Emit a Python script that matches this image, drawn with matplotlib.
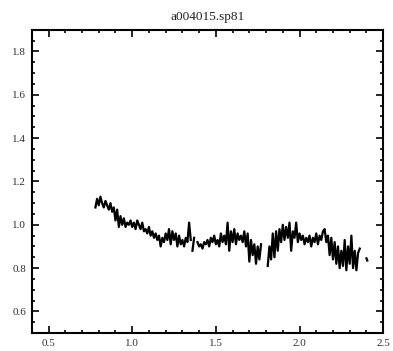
import numpy as np
import matplotlib
matplotlib.use("Agg")
import matplotlib.pyplot as plt
from matplotlib.ticker import MultipleLocator

# 스펙트럼 데이터
x1 = np.round(np.arange(0.78, 1.355, 0.01), 2)
y1 = [1.08, 1.12, 1.09, 1.13, 1.10, 1.08, 1.11, 1.09, 1.07, 1.10,
      1.06, 1.08, 1.02, 1.07, 0.99, 1.04, 1.00, 1.03, 0.99, 1.01,
      1.00, 1.02, 0.99, 1.01, 0.98, 1.02, 1.00, 0.98, 1.01, 0.97,
      0.98, 0.96, 0.99, 0.95, 0.97, 0.94, 0.96, 0.93, 0.95, 0.90,
      0.94, 0.92, 0.96, 0.93, 0.98, 0.91, 0.97, 0.93, 0.96, 0.90,
      0.95, 0.91, 0.93, 0.90, 0.94, 0.92, 1.01, 0.93]
x1b = [1.36, 1.37]
y1b = [0.88, 0.94]
x2 = np.round(np.arange(1.39, 1.775, 0.01), 2)
y2 = [0.92, 0.90, 0.91, 0.89, 0.92, 0.91, 0.93, 0.90, 0.94, 0.92,
      0.95, 0.91, 0.93, 0.90, 0.96, 0.92, 0.95, 0.91, 1.01, 0.88,
      0.97, 0.92, 0.98, 0.91, 0.96, 0.93, 0.95, 0.92, 0.97, 0.90,
      0.96, 0.83, 0.93, 0.86, 0.91, 0.82, 0.90, 0.84, 0.91]
x3 = np.round(np.arange(1.81, 2.365, 0.01), 2)
y3 = [0.81, 0.90, 0.84, 0.96, 0.85, 0.97, 0.88, 0.98, 0.92, 1.00,
      0.93, 0.99, 0.94, 1.01, 0.88, 0.97, 0.94, 1.01, 0.92, 0.96,
      0.93, 0.95, 0.91, 0.94, 0.92, 0.95, 0.90, 0.94, 0.92, 0.96,
      0.91, 0.95, 0.93, 0.97, 0.98, 0.92, 0.95, 0.86, 0.94, 0.84,
      0.92, 0.82, 0.90, 0.80, 0.88, 0.81, 0.93, 0.79, 0.90, 0.82,
      0.95, 0.80, 0.88, 0.79, 0.87, 0.89]
x4 = [2.40, 2.405]
y4 = [0.845, 0.835]

plt.rcParams['font.family'] = ['Liberation Serif', 'DejaVu Serif']

fig = plt.figure(figsize=(3.93, 3.51), dpi=100)
ax = fig.add_axes([0.081, 0.051, 0.894, 0.864])

for xs, ys in [(x1, y1), (x1b, y1b), (x2, y2), (x3, y3), (x4, y4)]:
    ax.plot(xs, ys, color="black", linewidth=1.6)

ax.set_xlim(0.4, 2.5)
ax.set_ylim(0.5, 1.9)
ax.xaxis.set_major_locator(MultipleLocator(0.5))
ax.xaxis.set_minor_locator(MultipleLocator(0.1))
ax.yaxis.set_major_locator(MultipleLocator(0.2))
ax.yaxis.set_minor_locator(MultipleLocator(0.05))
ax.set_xticks([0.5, 1.0, 1.5, 2.0, 2.5])
ax.set_xticklabels(["0.5", "1.0", "1.5", "2.0", "2.5"])
ax.set_yticks([0.6, 0.8, 1.0, 1.2, 1.4, 1.6, 1.8])
ax.set_yticklabels(["0.6", "0.8", "1.0", "1.2", "1.4", "1.6", "1.8"])

ax.tick_params(which="both", direction="in", top=True, right=True,
               labelsize=8, width=1.2, colors="black", labelcolor="#333333")
ax.tick_params(which="major", length=5, pad=4)
ax.tick_params(which="minor", length=2.5)
for s in ax.spines.values():
    s.set_linewidth(1.5)

ax.set_title("a004015.sp81", fontsize=9.5, pad=7, color="#222222")

fig.savefig("out.png", dpi=100)
